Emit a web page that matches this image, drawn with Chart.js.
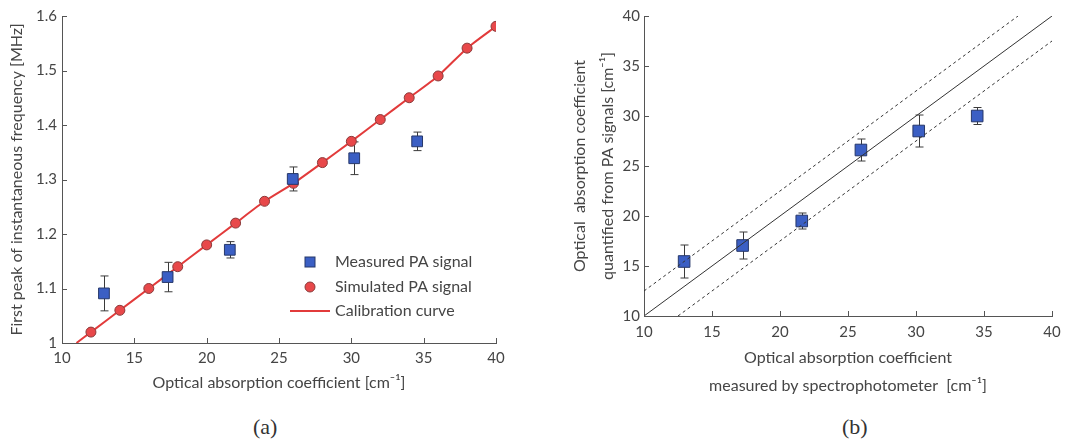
<!DOCTYPE html>
<html>
<head>
<meta charset="utf-8">
<script src="https://cdn.jsdelivr.net/npm/chart.js@4.4.0/dist/chart.umd.min.js"></script>
<style>
  body { margin: 0; background: #fff; width: 1088px; height: 441px; position: relative; overflow: hidden; }
  #wa { position: absolute; left: 0; top: 0; width: 530px; height: 400px; }
  #wb { position: absolute; left: 540px; top: 0; width: 548px; height: 400px; }
  .cap { position: absolute; top: 414px; font-family: "Liberation Serif", serif; font-size: 22px; color: #333; }
</style>
</head>
<body>
<div id="wa"><canvas id="chartA"></canvas></div>
<div id="wb"><canvas id="chartB"></canvas></div>
<div class="cap" style="left:253px">(a)</div>
<div class="cap" style="left:842px">(b)</div>
<script>
// (a) frequency vs absorption
var simX = [12, 14, 16, 18, 20, 22, 24, 26, 28, 30, 32, 34, 36, 38, 40];
var simY = [1.02, 1.06, 1.10, 1.14, 1.18, 1.22, 1.26, 1.293, 1.331, 1.37, 1.41, 1.45, 1.49, 1.541, 1.581];
var calX = [11, 12, 14, 16, 18, 20, 22, 24, 26, 28, 30, 32, 34, 36, 38, 40];
var calY = [1.0, 1.02, 1.06, 1.10, 1.14, 1.18, 1.22, 1.26, 1.293, 1.331, 1.37, 1.41, 1.45, 1.49, 1.541, 1.581];
var measX = [12.9, 17.3, 21.6, 25.95, 30.2, 34.55];
var measY = [1.091, 1.121, 1.171, 1.301, 1.339, 1.370];
var measErr = [0.032, 0.027, 0.015, 0.022, 0.03, 0.017];
var aXTicks = [10, 15, 20, 25, 30, 35, 40];
var aYTicks = [1, 1.1, 1.2, 1.3, 1.4, 1.5, 1.6];
var aYLabels = ["1", "1.1", "1.2", "1.3", "1.4", "1.5", "1.6"];

// (b) quantified vs measured
var bX = [12.95, 17.25, 21.6, 25.95, 30.2, 34.5];
var bY = [15.45, 17.05, 19.5, 26.6, 28.5, 30.0];
var bErr = [1.65, 1.35, 0.8, 1.1, 1.6, 0.85];
var idX = [10, 40];
var idY = [10, 40];
var upX = [10, 37.5];
var upY = [12.5, 40];
var loX = [12.5, 40];
var loY = [10, 37.5];
var bTicks = [10, 15, 20, 25, 30, 35, 40];

var FONT = "Lato";
var TXT = "#454545";
var AXIS = "#555";

function pts(xs, ys) { return xs.map(function (x, i) { return { x: x, y: ys[i] }; }); }
function setTicks(arr) { return function (s) { s.ticks = arr.map(function (v) { return { value: v }; }); }; }

var inwardTicks = {
  id: 'inwardTicks',
  afterDraw: function (chart) {
    var ctx = chart.ctx, a = chart.chartArea, sx = chart.scales.x, sy = chart.scales.y;
    ctx.save();
    ctx.strokeStyle = AXIS; ctx.lineWidth = 1;
    ctx.beginPath();
    sx.ticks.forEach(function (t) {
      var p = Math.round(sx.getPixelForValue(t.value)) + 0.5;
      ctx.moveTo(p, a.bottom); ctx.lineTo(p, a.bottom - 5);
    });
    sy.ticks.forEach(function (t) {
      var p = Math.round(sy.getPixelForValue(t.value)) + 0.5;
      ctx.moveTo(a.left, p); ctx.lineTo(a.left + 5, p);
    });
    ctx.stroke();
    ctx.restore();
  }
};

var errorBars = {
  id: 'errorBars',
  beforeDatasetsDraw: function (chart) {
    var ctx = chart.ctx, sx = chart.scales.x, sy = chart.scales.y;
    ctx.save();
    ctx.strokeStyle = "#3a3a3a"; ctx.lineWidth = 1;
    chart.data.datasets.forEach(function (ds) {
      if (!ds.errors) return;
      ds.data.forEach(function (p, i) {
        var x = Math.round(sx.getPixelForValue(p.x)) + 0.5;
        var y1 = sy.getPixelForValue(p.y + ds.errors[i]);
        var y2 = sy.getPixelForValue(p.y - ds.errors[i]);
        ctx.beginPath();
        ctx.moveTo(x, y1); ctx.lineTo(x, y2);
        ctx.moveTo(x - 4, y1); ctx.lineTo(x + 4, y1);
        ctx.moveTo(x - 4, y2); ctx.lineTo(x + 4, y2);
        ctx.stroke();
      });
    });
    ctx.restore();
  }
};

var boxLegend = {
  id: 'boxLegend',
  afterDraw: function (chart) {
    var ctx = chart.ctx, a = chart.chartArea;
    var mx = a.right - 186, tx = a.right - 161;
    var rows = [a.bottom - 81, a.bottom - 56, a.bottom - 32];
    var ds = chart.data.datasets;
    ctx.save();
    // measured
    ctx.fillStyle = ds[2].backgroundColor; ctx.strokeStyle = ds[2].borderColor; ctx.lineWidth = 1;
    ctx.fillRect(mx - 5, rows[0] - 5, 10, 10); ctx.strokeRect(mx - 5, rows[0] - 5, 10, 10);
    // simulated
    ctx.fillStyle = ds[1].backgroundColor; ctx.strokeStyle = ds[1].borderColor;
    ctx.beginPath(); ctx.arc(mx, rows[1], 5, 0, Math.PI * 2); ctx.fill(); ctx.stroke();
    // calibration
    ctx.strokeStyle = ds[0].borderColor; ctx.lineWidth = 2;
    ctx.beginPath(); ctx.moveTo(mx - 20, rows[2]); ctx.lineTo(mx + 20, rows[2]); ctx.stroke();
    ctx.fillStyle = TXT; ctx.font = "16px " + FONT; ctx.textBaseline = "middle"; ctx.textAlign = "left";
    ctx.fillText(ds[2].label, tx, rows[0]);
    ctx.fillText(ds[1].label, tx, rows[1]);
    ctx.fillText(ds[0].label, tx, rows[2]);
    ctx.restore();
  }
};

Chart.defaults.font.family = FONT;
Chart.defaults.color = TXT;
Chart.defaults.animation = false;

function axis(min, max, tickArr, labels, title, fit, pad, lh, tpad) {
  return {
    type: 'linear', min: min, max: max,
    afterBuildTicks: setTicks(tickArr),
    afterFit: fit,
    grid: { drawOnChartArea: false, drawTicks: false, color: AXIS },
    border: { display: true, color: AXIS, width: 1 },
    ticks: {
      padding: pad, color: TXT, font: { size: 15 },
      callback: function (v, i) { return labels ? labels[i] : String(v); }
    },
    title: { display: true, text: title, color: TXT, font: { size: 16, lineHeight: lh }, padding: tpad }
  };
}

new Chart(document.getElementById('chartA'), {
  type: 'scatter',
  data: {
    datasets: [
      { type: 'line', label: 'Calibration curve', data: pts(calX, calY), borderColor: '#e23b3b', backgroundColor: '#e23b3b',
        borderWidth: 2, pointRadius: 0, tension: 0.2, order: 3 },
      { label: 'Simulated PA signal', data: pts(simX, simY), backgroundColor: '#e8484a', borderColor: '#8a3a3a',
        borderWidth: 1, pointStyle: 'circle', pointRadius: 5, order: 2 },
      { label: 'Measured PA signal', data: pts(measX, measY), errors: measErr, backgroundColor: '#3b5fc4', borderColor: '#27386a',
        borderWidth: 1, pointStyle: 'rect', pointRadius: 7.6, order: 1 }
    ]
  },
  options: {
    responsive: true, maintainAspectRatio: false,
    layout: { padding: { left: 4, right: 34, top: 16, bottom: 8 } },
    plugins: { legend: { display: false }, tooltip: { enabled: false } },
    scales: {
      x: axis(10, 40, aXTicks, null, 'Optical absorption coefficient [cm\u207B\u00B9]',
        function (s) { s.height = 49; }, 6, 1.2, { top: 4, bottom: 0 }),
      y: axis(1, 1.6, aYTicks, aYLabels, 'First peak of instantaneous frequency [MHz]',
        function (s) { s.width = 58; }, 5, 1.2, { top: 3, bottom: 0 })
    }
  },
  plugins: [errorBars, inwardTicks, boxLegend]
});

new Chart(document.getElementById('chartB'), {
  type: 'scatter',
  data: {
    datasets: [
      { type: 'line', label: 'identity', data: pts(idX, idY), borderColor: '#333', borderWidth: 1, pointRadius: 0 },
      { type: 'line', label: 'upper', data: pts(upX, upY), borderColor: '#333', borderWidth: 1, borderDash: [3, 3], pointRadius: 0 },
      { type: 'line', label: 'lower', data: pts(loX, loY), borderColor: '#333', borderWidth: 1, borderDash: [3, 3], pointRadius: 0 },
      { label: 'measured', data: pts(bX, bY), errors: bErr, backgroundColor: '#3b5fc4', borderColor: '#27386a',
        borderWidth: 1, pointStyle: 'rect', pointRadius: 8.2 }
    ]
  },
  options: {
    responsive: true, maintainAspectRatio: false,
    layout: { padding: { left: 26, right: 36, top: 16, bottom: 1 } },
    plugins: { legend: { display: false }, tooltip: { enabled: false } },
    scales: {
      x: axis(10, 40, bTicks, null, ['Optical absorption coefficient', 'measured by spectrophotometer  [cm\u207B\u00B9]'],
        function (s) { s.height = 83; }, 7, 1.7, { top: 4, bottom: 0 }),
      y: axis(10, 40, bTicks, null, ['Optical  absorption coefficient', 'quantified from PA signals [cm\u207B\u00B9]'],
        function (s) { s.width = 78; }, 4, 1.75, { top: 0, bottom: 0 })
    }
  },
  plugins: [errorBars, inwardTicks]
});
</script>
</body>
</html>
